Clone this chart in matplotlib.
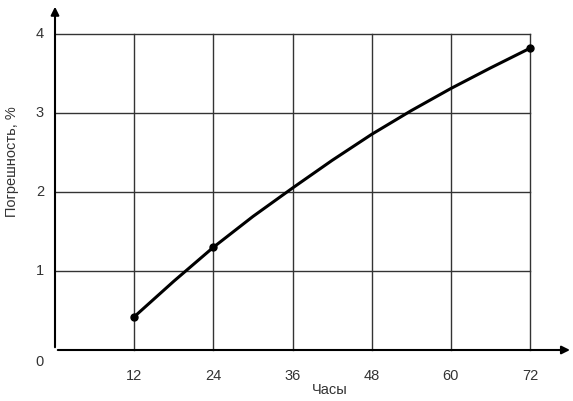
import matplotlib
matplotlib.use('Agg')
import matplotlib.pyplot as plt

# curve
hours = [12, 18, 24, 30, 36, 42, 48, 54, 60, 66, 72]
error = [0.42, 0.87, 1.30, 1.69, 2.05, 2.40, 2.73, 3.03, 3.31, 3.57, 3.82]
# points marked with dots
mark_hours = [12, 24, 72]
mark_error = [0.42, 1.30, 3.82]

x_ticks = [12, 24, 36, 48, 60, 72]
y_ticks = [1, 2, 3, 4]

plt.rcParams['font.family'] = ['Liberation Sans', 'DejaVu Sans']

fig = plt.figure(figsize=(5.73, 4.01), dpi=100)
W, H = 573, 401
x0, x1 = 55, 530
y0, y1 = 350, 34
ax = fig.add_axes([x0 / W, 1 - y0 / H, (x1 - x0) / W, (y0 - y1) / H])
ax.set_xlim(0, 72)
ax.set_ylim(0, 4)
for s in ax.spines.values():
    s.set_visible(False)
ax.set_xticks([])
ax.set_yticks([])

for x in x_ticks:
    ax.plot([x, x], [0, 4], color='#333333', lw=1, zorder=1, clip_on=False)
    ax.text(x, -0.33, str(x), ha='center', va='center', fontsize=10.5, color='#333333')
for y in y_ticks:
    ax.plot([0, 72], [y, y], color='#333333', lw=1, zorder=1, clip_on=False)
    ax.text(-2.3, y, str(y), ha='center', va='center', fontsize=10.5, color='#333333')
ax.text(-2.3, -0.15, '0', ha='center', va='center', fontsize=10.5, color='#333333')

# axes with arrows
ax.annotate('', xy=(1.09, 0), xytext=(0, 0), xycoords='axes fraction',
            arrowprops=dict(arrowstyle='-|>', color='black', lw=1.5, mutation_scale=12))
ax.annotate('', xy=(0, 1.095), xytext=(0, 0), xycoords='axes fraction',
            arrowprops=dict(arrowstyle='-|>', color='black', lw=1.5, mutation_scale=12))

ax.plot(hours, error, color='black', lw=2.2, zorder=3, clip_on=False, solid_joinstyle='round')
ax.plot(mark_hours, mark_error, 'o', color='black', ms=5, zorder=4, clip_on=False)

fig.text(330 / W, 1 - 390 / H, 'Часы', ha='center', va='center', fontsize=10.5, color='#333333')
fig.text(12 / W, 1 - 162 / H, 'Погрешность, %', ha='center', va='center', rotation=90,
         fontsize=10.5, color='#333333')

fig.savefig('out.png', dpi=100)
